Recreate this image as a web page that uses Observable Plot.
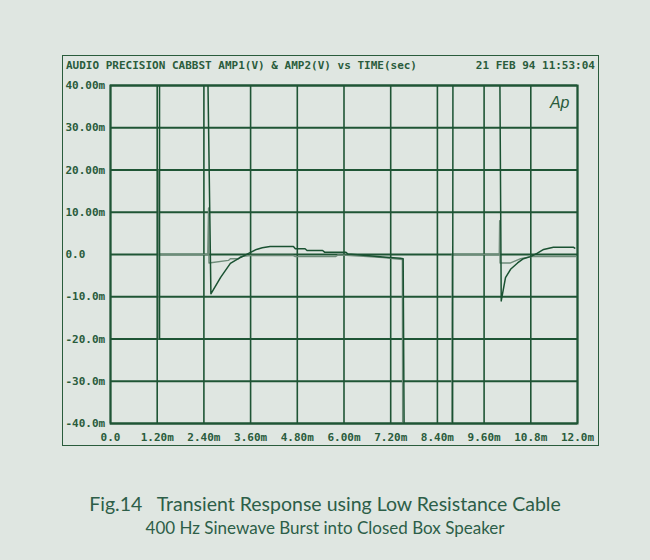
<!DOCTYPE html>
<html>
<head>
<meta charset="utf-8">
<script src="https://cdn.jsdelivr.net/npm/d3@7"></script>
<script src="https://cdn.jsdelivr.net/npm/@observablehq/plot@0.6"></script>
<style>
  html, body { margin: 0; padding: 0; background: #dfe6e1; }
  #wrap { position: relative; width: 650px; height: 560px; background: #dfe6e1; overflow: hidden; }
  #chart { position: absolute; left: 0; top: 0; }
  #outer { position: absolute; left: 62px; top: 55px; width: 537px; height: 391px; border: 1.5px solid #2a5c3c; box-sizing: border-box; }
  .hdr { position: absolute; top: 59px; font-family: "DejaVu Sans Mono", monospace; font-weight: bold; font-size: 11px; color: #2a5c3c; white-space: pre; }
  #cap1 { position: absolute; left: 0; width: 650px; top: 492px; text-align: center; font-family: Lato, "Open Sans", sans-serif; font-size: 19.5px; color: #2d5e48; white-space: pre; }
  #cap2 { position: absolute; left: 0; width: 650px; top: 517px; text-align: center; font-family: Lato, "Open Sans", sans-serif; font-size: 17px; color: #2d5e48; }
</style>
</head>
<body>
<div id="wrap">
  <div id="chart"></div>
  <div id="outer"></div>
  <div class="hdr" id="hleft" style="left:66px;"></div>
  <div class="hdr" id="hright" style="right:55px;"></div>
  <div id="cap1"></div>
  <div id="cap2"></div>
</div>
<script>
// ---- text ----
const headerLeft = "AUDIO PRECISION CABBST AMP1(V) & AMP2(V) vs TIME(sec)";
const headerRight = "21 FEB 94 11:53:04";
const caption1 = "Fig.14   Transient Response using Low Resistance Cable";
const caption2 = "400 Hz Sinewave Burst into Closed Box Speaker";
const logo = "Ap";

// ---- axes (time in ms, amplitude in mV) ----
const xTicks = [0, 1.2, 2.4, 3.6, 4.8, 6.0, 7.2, 8.4, 9.6, 10.8, 12.0];
const xTickLabels = ["0.0", "1.20m", "2.40m", "3.60m", "4.80m", "6.00m", "7.20m", "8.40m", "9.60m", "10.8m", "12.0m"];
const yTicks = [40, 30, 20, 10, 0, -10, -20, -30, -40];
const yTickLabels = ["40.00m", "30.00m", "20.00m", "10.00m", "0.0", "-10.0m", "-20.0m", "-30.0m", "-40.0m"];

// ---- AMP1 trace (off-scale values beyond ±40 are clipped) ----
const amp1Time  = [1.26, 1.26, 2.49, 2.58, 2.83, 3.08, 3.34, 3.60, 3.75, 3.90, 4.10, 4.70, 4.75, 5.00, 5.05, 5.45, 5.50, 6.05, 6.10, 6.50, 7.00, 7.45, 7.52, 7.55, 8.79, 8.80, 10.00, 10.04, 10.15, 10.28, 10.46, 10.61, 10.79, 10.97, 11.13, 11.38, 11.90, 11.93];
const amp1Value = [-20, 50, 50, -9.3, -5.4, -2.1, -0.7, 0.5, 1.2, 1.6, 1.9, 1.9, 1.35, 1.35, 0.95, 0.95, 0.55, 0.55, 0.1, -0.2, -0.6, -0.9, -1.0, -50, -50, 50, 50, -11, -5.5, -3.5, -2.0, -1.0, -0.5, 0.3, 1.2, 1.7, 1.7, 1.5];

// ---- AMP2 trace ----
const amp2Time  = [1.24, 1.24, 1.245, 1.25, 2.50, 2.52, 2.53, 3.03, 3.08, 3.29, 3.34, 3.60, 4.70, 4.75, 5.78, 5.85, 6.50, 7.00, 7.50, 7.51, 8.77, 8.78, 9.99, 10.00, 10.01, 10.28, 10.54, 10.80, 11.95];
const amp2Value = [0, 20, -20, 0, 0, 11, -2, -1.4, -1.0, -1.0, -0.5, -0.25, -0.25, -0.5, -0.5, -0.1, -0.4, -0.7, -1.2, -50, -50, 0, 0, 8, -2, -2, -1.0, -0.5, -0.5];

const amp1 = amp1Time.map((t, i) => ({t, v: amp1Value[i]}));
const amp2 = amp2Time.map((t, i) => ({t, v: amp2Value[i]}));

const gridColor = "#1f5535";
const textColor = "#2a5c3c";

const chart = Plot.plot({
  width: 650,
  height: 460,
  marginLeft: 110,
  marginRight: 73,
  marginTop: 85,
  marginBottom: 37,
  style: {background: "transparent", fontFamily: "DejaVu Sans Mono", fontSize: "11px", fontWeight: "bold", color: textColor},
  x: {domain: [0, 12], label: null},
  y: {domain: [-40, 40], label: null},
  marks: [
    Plot.gridX(xTicks, {stroke: gridColor, strokeOpacity: 1, strokeWidth: 1.6}),
    Plot.gridY(yTicks, {stroke: gridColor, strokeOpacity: 1, strokeWidth: 1.8}),
    Plot.line(amp2, {x: "t", y: "v", stroke: "#6e8b79", strokeWidth: 1.4, clip: true}),
    Plot.line(amp1, {x: "t", y: "v", stroke: "#1a5232", strokeWidth: 1.5, clip: true}),
    Plot.frame({stroke: gridColor, strokeWidth: 2}),
    Plot.axisX(xTicks, {tickSize: 0, tickPadding: 10, label: null, fill: textColor,
      tickFormat: d => xTickLabels[xTicks.indexOf(d)]}),
    Plot.axisY(yTicks, {tickSize: 0, tickPadding: 0, label: null, textAnchor: "start", dx: -45, fill: textColor,
      tickFormat: d => yTickLabels[yTicks.indexOf(d)]}),
    Plot.text([logo], {text: d => d, frameAnchor: "top-right", dx: -8, dy: 11, fontStyle: "italic", fontWeight: "normal",
      fontSize: 16, fontFamily: "Liberation Sans", fill: textColor})
  ]
});
document.getElementById("chart").appendChild(chart);
document.getElementById("hleft").textContent = headerLeft;
document.getElementById("hright").textContent = headerRight;
document.getElementById("cap1").textContent = caption1;
document.getElementById("cap2").textContent = caption2;
</script>
</body>
</html>
